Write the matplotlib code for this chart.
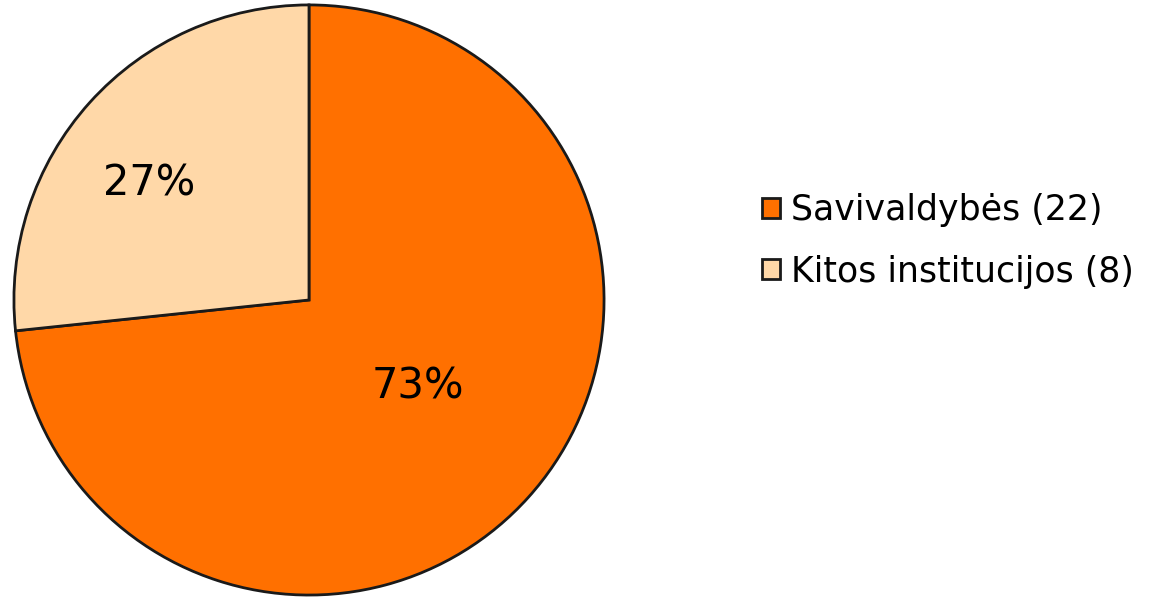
import numpy as np
import matplotlib.pyplot as plt

labels = ['Savivaldybės (22)', 'Kitos institucijos (8)']
counts = [22, 8]
colors = ['#FF7000', '#FFD8A8']

fig = plt.figure(figsize=(11.66, 5.98), dpi=100)
ax = fig.add_axes([0.0094, 0.0, 0.5112, 0.9967])

wedges, texts, autotexts = ax.pie(
    counts, colors=colors, startangle=90, counterclock=False,
    autopct=lambda p: '%d%%' % round(p), pctdistance=0.67,
    wedgeprops=dict(edgecolor='#1a1a1a', linewidth=2),
    textprops=dict(fontsize=30, color='black'))
ax.set_aspect('equal')
ax.set_xlim(-1.01, 1.01)
ax.set_ylim(-1.01, 1.01)

# nudge the percentage labels to where they sit in the original
for t, dist, ang in [(autotexts[0], 0.47, -38.5), (autotexts[1], 0.67, 144)]:
    a = np.deg2rad(ang)
    t.set_position((dist * np.cos(a), dist * np.sin(a)))

fig.legend(wedges, labels, loc='center left', bbox_to_anchor=(0.627, 0.597),
           frameon=False, fontsize=25, handlelength=0.5, handleheight=0.5,
           handletextpad=0.32, labelspacing=0.78)

fig.savefig('out.png', dpi=100)
